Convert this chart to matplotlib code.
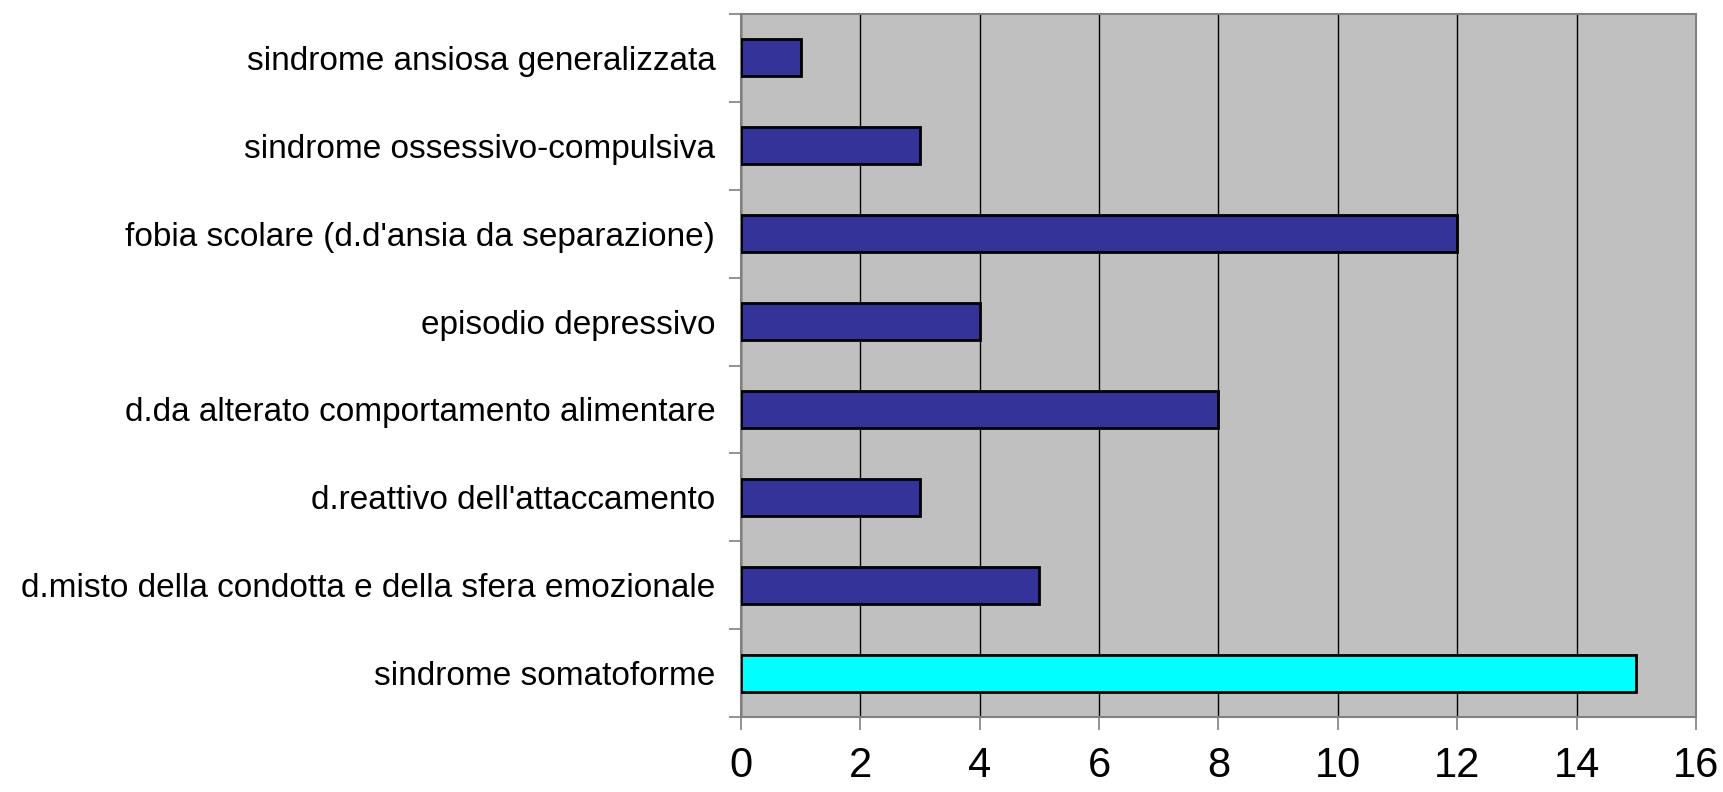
import numpy as np
import matplotlib
matplotlib.use("Agg")
import matplotlib.pyplot as plt
from matplotlib.ticker import FixedLocator

# categories listed bottom to top
categories = [
    "sindrome somatoforme",
    "d.misto della condotta e della sfera emozionale",
    "d.reattivo dell'attaccamento",
    "d.da alterato comportamento alimentare",
    "episodio depressivo",
    "fobia scolare (d.d'ansia da separazione)",
    "sindrome ossessivo-compulsiva",
    "sindrome ansiosa generalizzata",
]
counts = [15, 5, 3, 8, 4, 12, 3, 1]
bar_colors = ["#00FFFF"] + ["#333399"] * 7
xticks = [0, 2, 4, 6, 8, 10, 12, 14, 16]

plt.rcParams["font.family"] = ["Liberation Sans", "DejaVu Sans"]

fig = plt.figure(figsize=(17.24, 7.92), dpi=100)
ax = fig.add_axes([741 / 1724, 1 - 717 / 792, 955 / 1724, 703 / 792])

y = np.arange(len(categories))
ax.barh(y, counts, height=0.42, color=bar_colors, edgecolor="black",
        linewidth=2, zorder=3)

ax.set_facecolor("#C0C0C0")
ax.set_xlim(0, 16)
ax.set_ylim(-0.5, len(categories) - 0.5)

ax.set_xticks(xticks)
ax.set_xticklabels([str(t) for t in xticks], fontsize=30)
ax.xaxis.grid(True, color="#000000", linewidth=1, zorder=1)
ax.tick_params(axis="x", direction="out", length=9, width=1.2,
               color="#808080", pad=12)

ax.set_yticks(y)
ax.set_yticklabels(categories, fontsize=24)
ax.tick_params(axis="y", which="major", length=0, pad=18.5)
ax.yaxis.set_minor_locator(FixedLocator(np.arange(-0.5, len(categories), 1.0)))
ax.tick_params(axis="y", which="minor", direction="out", length=9,
               width=1.2, color="#808080")

for side in ["left", "right", "top", "bottom"]:
    ax.spines[side].set_color("#808080")
    ax.spines[side].set_linewidth(1.5)

fig.savefig("out.png", dpi=100)
